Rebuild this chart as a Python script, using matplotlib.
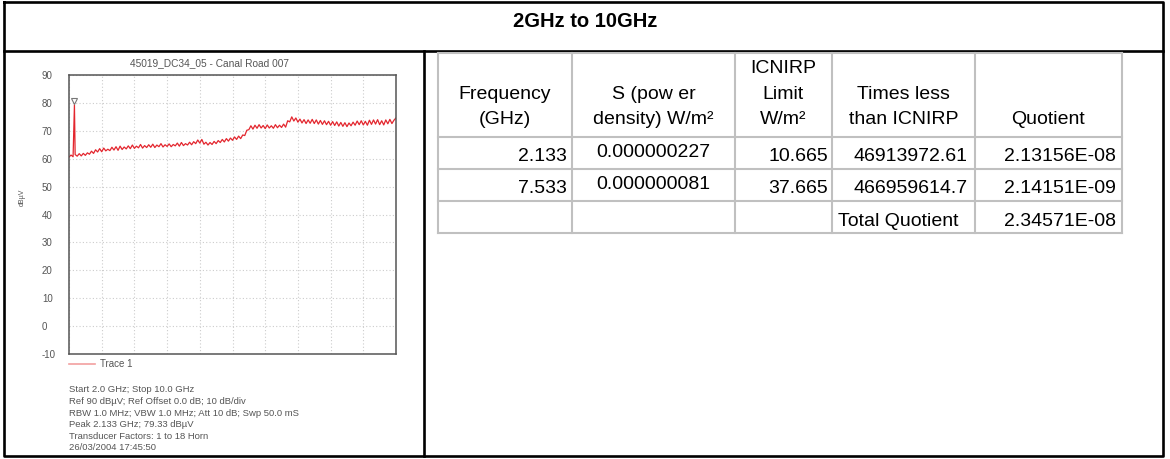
import numpy as np
import matplotlib.pyplot as plt
from matplotlib.lines import Line2D

plt.rcParams['font.family'] = ['Liberation Sans', 'DejaVu Sans']
plt.rcParams['axes.unicode_minus'] = False

W, H = 1170, 459

# spectrum analyser sweep (GHz) and trace levels (dBuV) read every 0.05 GHz
sweep_start = 2.0
sweep_stop = 10.0
trace_levels = [
    60.6, 61.3, 60.7, 61.5, 60.9, 61.8, 61.0, 61.9, 61.2, 62.1,
    61.6, 62.7, 61.9, 63.2, 62.4, 63.6, 62.5, 63.8, 62.8, 63.4,
    62.9, 64.1, 63.1, 64.3, 63.0, 64.5, 63.3, 64.2, 63.5, 64.6,
    63.6, 64.9, 63.7, 64.5, 63.9, 65.1, 63.8, 64.7, 64.0, 65.0,
    64.1, 65.2, 64.0, 64.9, 64.3, 65.4, 64.2, 65.0, 64.4, 65.3,
    64.3, 65.1, 64.6, 65.6, 64.5, 65.8, 64.7, 65.4, 64.9, 65.9,
    65.0, 66.1, 65.4, 66.7, 65.6, 66.9, 65.2, 65.9, 64.9, 65.8,
    65.1, 66.2, 65.4, 66.5, 65.8, 66.9, 66.0, 67.2, 66.3, 67.4,
    66.6, 67.8, 66.9, 68.1, 67.2, 68.5, 68.3, 70.2, 70.4, 71.8,
    70.6, 72.0, 70.9, 72.2, 71.0, 71.9, 70.8, 72.1, 71.0, 71.8,
    70.9, 72.2, 71.1, 72.0, 71.2, 72.4, 71.3, 73.6, 73.2, 75.0,
    73.5, 74.6, 73.1, 74.2, 72.8, 74.0, 72.6, 73.9, 72.7, 74.1,
    72.6, 73.9, 72.4, 73.7, 72.3, 73.6, 72.2, 73.4, 72.0, 73.3,
    71.9, 73.2, 71.7, 73.0, 71.6, 72.9, 71.5, 72.8, 71.8, 73.1,
    72.0, 73.5, 72.2, 73.6, 72.1, 73.4, 72.0, 73.8, 72.3, 73.9,
    72.4, 74.0, 72.2, 73.6, 72.1, 73.9, 72.5, 74.1, 72.6, 73.8,
    74.6,
]
peak_freq = 2.133
peak_level = 79.33

y_ticks = [-10, 0, 10, 20, 30, 40, 50, 60, 70, 80, 90]
chart_title = '45019_DC34_05 - Canal Road 007'
info_lines = [
    'Start 2.0 GHz; Stop 10.0 GHz',
    'Ref 90 dBµV; Ref Offset 0.0 dB; 10 dB/div',
    'RBW 1.0 MHz; VBW 1.0 MHz; Att 10 dB; Swp 50.0 mS',
    'Peak 2.133 GHz; 79.33 dBµV',
    'Transducer Factors: 1 to 18 Horn',
    '26/03/2004 17:45:50',
]

# table
page_title = '2GHz to 10GHz'
col_headers = [
    ['', 'Frequency', '(GHz)'],
    ['', 'S (pow er', 'density) W/m²'],
    ['ICNIRP', 'Limit', 'W/m²'],
    ['', 'Times less', 'than ICNIRP'],
    ['', '', 'Quotient'],
]
freq_ghz = ['2.133', '7.533']
power_density = ['0.000000227', '0.000000081']
icnirp_limit = ['10.665', '37.665']
times_less = ['46913972.61', '466959614.7']
quotient = ['2.13156E-08', '2.14151E-09']
total_label = 'Total Quotient'
total_quotient = '2.34571E-08'

fig = plt.figure(figsize=(W / 100, H / 100), dpi=100)
fig.patch.set_facecolor('white')

# background layer in pixel coordinates (borders, title, table)
bg = fig.add_axes([0, 0, 1, 1])
bg.set_xlim(0, W)
bg.set_ylim(H, 0)
bg.axis('off')

blk = dict(color='black', lw=1.9, solid_capstyle='projecting')
bg.plot([4, 1163, 1163, 4, 4], [2, 2, 456, 456, 2], **blk)
bg.plot([4, 1163], [51, 51], **blk)
bg.plot([424, 424], [51, 456], **blk)
bg.text(585, 27, page_title, ha='center', va='baseline', fontsize=14.5, fontweight='bold')

# table grid
col_x = [438, 572, 735, 832, 975, 1122]
row_y = [53, 137, 169, 201, 233]
gry = dict(color='#c0c0c0', lw=1.5)
for x in col_x:
    bg.plot([x, x], [row_y[0], row_y[-1]], **gry)
for y in row_y:
    bg.plot([col_x[0], col_x[-1]], [y, y], **gry)

fs = 14
head_base = [73, 99, 124]
for c, lines in enumerate(col_headers):
    cx = (col_x[c] + col_x[c + 1]) / 2
    for yb, s in zip(head_base, lines):
        if s:
            bg.text(cx, yb, s, ha='center', va='baseline', fontsize=fs)

row_base = [161, 193, 226]
for r in range(2):
    yb = row_base[r]
    bg.text(col_x[1] - 5, yb, freq_ghz[r], ha='right', va='baseline', fontsize=fs)
    bg.text((col_x[1] + col_x[2]) / 2, yb - 4, power_density[r], ha='center', va='baseline', fontsize=fs)
    bg.text(col_x[3] - 4, yb, icnirp_limit[r], ha='right', va='baseline', fontsize=fs)
    bg.text(col_x[4] - 7, yb, times_less[r], ha='right', va='baseline', fontsize=fs)
    bg.text(col_x[5] - 6, yb, quotient[r], ha='right', va='baseline', fontsize=fs)
bg.text(col_x[3] + 6, row_base[2], total_label, ha='left', va='baseline', fontsize=fs)
bg.text(col_x[5] - 6, row_base[2], total_quotient, ha='right', va='baseline', fontsize=fs)

# spectrum plot
txt_c = '#555555'
ax = fig.add_axes([69 / W, 1 - 354 / H, 327 / W, 279 / H])
freq = np.linspace(sweep_start, sweep_stop, len(trace_levels))
levels = np.array(trace_levels)
i = np.searchsorted(freq, peak_freq)
freq = np.insert(freq, i, peak_freq)
levels = np.insert(levels, i, peak_level)
ax.plot(freq, levels, color='#e3262e', lw=0.9)
ax.plot(peak_freq, peak_level + 1.3, marker='v', ms=4, mfc='white', mec='#777777', mew=0.8)

ax.set_xlim(sweep_start, sweep_stop)
ax.set_ylim(y_ticks[0], y_ticks[-1])
ax.set_xticks(np.linspace(sweep_start, sweep_stop, 11))
ax.set_yticks(y_ticks)
ax.grid(True, color='#cccccc', linestyle=(0, (1, 2)), lw=0.8)
ax.tick_params(length=0, labelbottom=False, labelsize=7, labelcolor=txt_c, pad=19.5)
for lbl in ax.get_yticklabels():
    lbl.set_horizontalalignment('left')
for sp in ax.spines.values():
    sp.set_color('#555555')
    sp.set_linewidth(1.1)

ax.legend(handles=[Line2D([], [], color='#f2a0a0', lw=1.2)], labels=['Trace 1'],
          loc='upper left', bbox_to_anchor=(0, -0.018), frameon=False, fontsize=7,
          labelcolor=txt_c, borderpad=0, borderaxespad=0, handlelength=2.7, handletextpad=0.5)

bg.text(210, 63, chart_title, ha='center', va='center', fontsize=7.3, color=txt_c)
bg.text(22, 197, 'dBµV', ha='center', va='center', rotation=90, fontsize=5, color=txt_c)
for k, s in enumerate(info_lines):
    bg.text(69, 390 + k * 11.6, s, ha='left', va='center', fontsize=6.8, color=txt_c)

fig.savefig('out.png', dpi=100)
